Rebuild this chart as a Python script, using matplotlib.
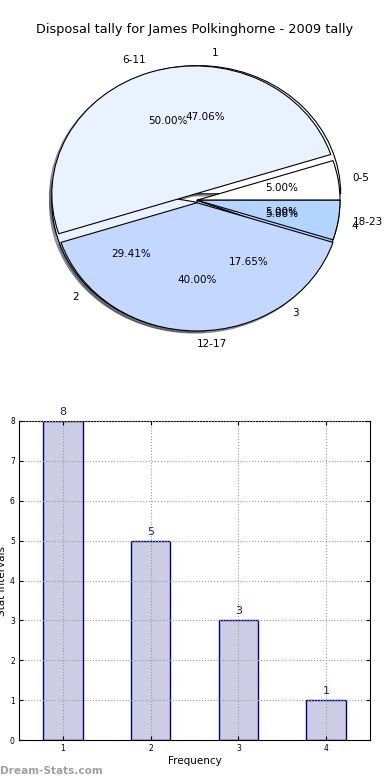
import matplotlib
matplotlib.use("Agg")
import matplotlib.pyplot as plt
import matplotlib.patches as mpatches

title = "Disposal tally for James Polkinghorne - 2009 tally"

freq_labels = ["1", "2", "3", "4"]
freq_values = [8, 5, 3, 1]

interval_labels = ["0-5", "6-11", "12-17", "18-23"]
interval_values = [1, 10, 8, 1]

wedge_colors = ["#ffffff", "#eaf1ff", "#c4d7ff", "#b3d4ff"]

W, H = 390, 780
fig = plt.figure(figsize=(3.9, 7.8), dpi=100)
fig.text(0.5, 1 - 30 / H, title, ha="center", va="center", fontsize=9.3)

# pie axes: centre ~ (197, 200) px, radii ~ 143 x 128 px
cx, cy, rx, ry = 197, 200.2, 143, 128.2
ax = fig.add_axes([(cx - 1.25 * rx) / W, (H - (cy + 1.25 * ry)) / H,
                   2.5 * rx / W, 2.5 * ry / H])
wedge_kw = dict(edgecolor="black", linewidth=0.8)
shadow_kw = dict(ox=-0.012, oy=-0.012)
ax.pie(freq_values, labels=freq_labels, colors=wedge_colors, autopct="%1.2f%%",
       explode=[0.05, 0.02, 0, 0], shadow=shadow_kw, startangle=0,
       wedgeprops=wedge_kw, textprops=dict(fontsize=7.5))
ax.pie(interval_values, labels=interval_labels, colors=wedge_colors, autopct="%1.2f%%",
       explode=[0, 0.05, 0.02, 0], shadow=shadow_kw, startangle=0,
       wedgeprops=wedge_kw, textprops=dict(fontsize=7.5))
for p in ax.patches:
    if isinstance(p, mpatches.Shadow):
        p.set_zorder(0.9)
ax.set_aspect("auto")
ax.set_xlim(-1.25, 1.25)
ax.set_ylim(-1.25, 1.25)

bx = fig.add_axes([19 / W, 40 / H, 351 / W, 319 / H])
xs = list(range(1, len(freq_values) + 1))
bx.bar(xs, freq_values, width=0.45, color="#ccccE4", edgecolor="#000080",
       linewidth=1.0, zorder=1)
for x, v in zip(xs, freq_values):
    bx.text(x, v + 0.1, str(v), ha="center", va="bottom", color="#1c1c8c", fontsize=8)
bx.set_xlim(0.5, 4.5)
bx.set_ylim(0, 8)
bx.set_xticks(xs)
bx.set_xticklabels(freq_labels)
bx.set_yticks(range(0, 9))
bx.tick_params(labelsize=5.5, direction="in", length=3, top=True, right=True, pad=3)
bx.grid(True, linestyle=":", color="#999999", linewidth=0.8, zorder=2)
bx.set_axisbelow(False)
bx.set_xlabel("Frequency", fontsize=7.5, labelpad=2)
bx.set_ylabel("Stat Intervals", fontsize=7.5, labelpad=2)

fig.text(0.0, 1 - 771 / H, "Dream-Stats.com", ha="left", va="center",
         fontsize=7.6, color="#a0a0a0", fontweight="bold")

fig.savefig("out.png", dpi=100)
